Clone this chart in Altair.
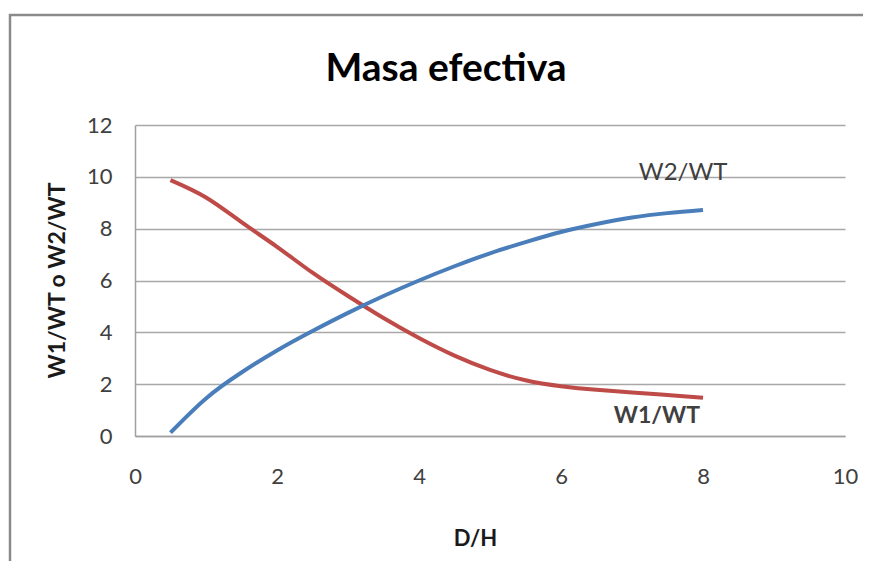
import altair as alt
import pandas as pd

x_vals = [0.5, 1.0, 1.5, 2.0, 2.5, 3.0, 3.5, 4.0, 4.5, 5.0, 5.5, 6.0, 6.5, 7.0, 7.5, 8.0]
w1_wt = [9.87, 9.2, 8.25, 7.3, 6.3, 5.4, 4.55, 3.78, 3.1, 2.55, 2.15, 1.92, 1.78, 1.68, 1.58, 1.48]
w2_wt = [0.13, 1.45, 2.45, 3.3, 4.05, 4.75, 5.4, 6.0, 6.55, 7.05, 7.48, 7.87, 8.18, 8.43, 8.6, 8.72]

series_names = ["W1/WT", "W2/WT"]
series_colors = ["#BE4B48", "#4A7EBB"]

label_text = ["W2/WT", "W1/WT"]
label_x = [7.72, 7.35]
label_y = [10.13, 0.78]
label_weight = ["normal", "bold"]

rows = []
for name, vals in zip(series_names, [w1_wt, w2_wt]):
    for xv, yv in zip(x_vals, vals):
        rows.append({"x": xv, "y": yv, "serie": name})
df = pd.DataFrame(rows)
labels = pd.DataFrame({"t": label_text, "x": label_x, "y": label_y, "w": label_weight})

FONT = "Lato"

xscale = alt.Scale(domain=[0, 10], nice=False)
yscale = alt.Scale(domain=[0, 12], nice=False)

lines = alt.Chart(df).mark_line(strokeWidth=4, interpolate="natural").encode(
    x=alt.X("x:Q", scale=xscale, axis=alt.Axis(
        title="D/H", values=[0, 2, 4, 6, 8, 10], format="d", grid=False, ticks=False,
        labelFlush=False,
        labelPadding=30, labelFontSize=22, labelColor="#404040", labelFont=FONT,
        domainColor="#a0a0a0", domainWidth=1.5,
        titleFont=FONT, titleFontSize=22, titleFontWeight="bold", titleColor="#1a1a1a",
        titleX=340, titleY=102, titleBaseline="middle", titleAlign="center")),
    y=alt.Y("y:Q", scale=yscale, axis=alt.Axis(
        title="W1/WT o W2/WT", values=[0, 2, 4, 6, 8, 10, 12], format="d", grid=True,
        labelFlush=False,
        gridColor="#a8a8a8", gridWidth=1.5, ticks=False,
        labelPadding=23, labelFontSize=22, labelColor="#404040", labelFont=FONT,
        domainColor="#a0a0a0", domainWidth=1.5,
        titleFont=FONT, titleFontSize=23, titleFontWeight="bold", titleColor="#1a1a1a",
        titleAngle=-90, titleX=-78, titleY=155, titleBaseline="middle", titleAlign="center")),
    color=alt.Color("serie:N", scale=alt.Scale(domain=series_names, range=series_colors), legend=None),
)

text_normal = alt.Chart(labels).transform_filter(alt.datum.w == "normal").mark_text(
    font=FONT, fontSize=24, color="#404040", baseline="middle", align="center"
).encode(x=alt.X("x:Q", scale=xscale), y=alt.Y("y:Q", scale=yscale), text="t:N")

text_bold = alt.Chart(labels).transform_filter(alt.datum.w == "bold").mark_text(
    font=FONT, fontSize=23, fontWeight="bold", color="#404040", baseline="middle", align="center"
).encode(x=alt.X("x:Q", scale=xscale), y=alt.Y("y:Q", scale=yscale), text="t:N")

frame = alt.Chart(pd.DataFrame({"a": [0]})).mark_rect(
    fill=None, stroke="#8a8a8a", strokeWidth=2.5, clip=False
).encode(x=alt.value(-125), x2=alt.value(760), y=alt.value(-110), y2=alt.value(480))

chart = alt.layer(frame, lines, text_normal, text_bold).properties(
    width=710, height=311,
    title=alt.TitleParams("Masa efectiva", font=FONT, fontSize=39, fontWeight="bold",
                          color="#000000", anchor="middle", dx=-44, dy=106, offset=0,
                          baseline="alphabetic"),
    autosize="none",
    padding={"left": 127, "top": 117, "right": 18, "bottom": 125},
    background="white",
).configure_view(stroke=None)

chart.save("out.html", embed_options={"renderer": "svg", "actions": False})
